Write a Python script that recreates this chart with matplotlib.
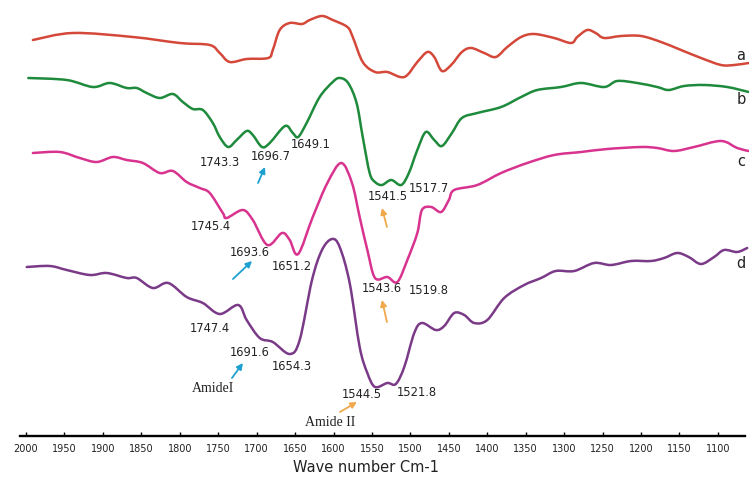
import numpy as np
import matplotlib
matplotlib.use("Agg")
import matplotlib.pyplot as plt
from matplotlib.path import Path
from matplotlib.patches import PathPatch

# ---------------- data (wavenumber, transmittance a.u., stacked) ----------------
wn_a = [1991, 1939, 1861, 1800, 1761, 1748, 1735, 1713, 1685, 1679, 1670, 1657, 1641, 1631, 1615,
        1601, 1582, 1575, 1562, 1546, 1530, 1508, 1491, 1478, 1469, 1459, 1447, 1433, 1421,
        1404, 1389, 1374, 1356, 1339, 1313, 1291, 1283, 1270, 1259, 1248, 1226, 1200, 1174,
        1148, 1122, 1096, 1079, 1060]
t_a = [396, 403, 399, 393, 391, 383, 374, 377, 378, 386, 406, 413, 412, 416, 420,
       416, 409, 399, 374, 364, 364, 359, 374, 384, 379, 365, 371, 384, 388,
       383, 379, 389, 399, 402, 398, 393, 399, 406, 403, 398, 400, 400, 394,
       386, 378, 371, 371, 373]

wn_b = [1997, 1947, 1913, 1891, 1869, 1856, 1843, 1826, 1809, 1796, 1783, 1770, 1757, 1748,
        1737, 1726, 1713, 1705, 1693, 1683, 1663, 1653, 1646, 1635, 1618, 1601, 1592, 1581,
        1570, 1562, 1553, 1546, 1537, 1525, 1512, 1502, 1491, 1480, 1469, 1459, 1446, 1433,
        1413, 1382, 1356, 1335, 1304, 1278, 1248, 1231, 1205, 1179, 1164, 1144, 1118, 1088,
        1060]
t_b = [358, 356, 349, 353, 348, 348, 343, 338, 342, 334, 327, 326, 313, 299,
       289, 296, 305, 301, 289, 293, 310, 303, 299, 313, 339, 354, 358, 353,
       333, 299, 263, 254, 251, 256, 251, 263, 286, 304, 296, 290, 303, 318,
       323, 329, 339, 346, 349, 353, 349, 355, 353, 349, 346, 350, 351, 349,
       344]

wn_c = [1991, 1956, 1930, 1908, 1887, 1869, 1848, 1826, 1809, 1791, 1774, 1761, 1744,
        1739, 1718, 1705, 1686, 1667, 1657, 1646, 1627, 1608, 1590, 1576, 1566, 1556,
        1546, 1530, 1517, 1504, 1491, 1485, 1473, 1460, 1450, 1443, 1413, 1382, 1348,
        1313, 1278, 1244, 1200, 1179, 1157, 1131, 1096, 1075, 1060]
t_c = [283, 284, 278, 274, 279, 276, 273, 263, 265, 254, 248, 243, 223,
       218, 226, 216, 191, 203, 196, 182, 219, 253, 273, 253, 219, 186,
       158, 159, 154, 176, 203, 226, 229, 224, 236, 246, 251, 263, 273,
       281, 284, 287, 289, 288, 285, 289, 295, 288, 285]

wn_d = [1999, 1969, 1947, 1917, 1895, 1869, 1856, 1835, 1815, 1791, 1770, 1748, 1724, 1713,
        1696, 1679, 1657, 1644, 1628, 1615, 1602, 1592, 1579, 1566, 1556, 1546, 1530, 1519,
        1508, 1495, 1485, 1467, 1456, 1443, 1430, 1417, 1400, 1378, 1352, 1330, 1311, 1287,
        1261, 1239, 1213, 1187, 1170, 1153, 1138, 1122, 1105, 1092, 1075, 1062]
t_d = [169, 170, 166, 161, 163, 158, 158, 148, 153, 139, 133, 122, 131, 116,
       98, 94, 82, 96, 156, 186, 197, 189, 153, 89, 63, 49, 53, 52,
       69, 103, 113, 106, 110, 123, 121, 113, 116, 138, 151, 158, 165, 165,
       173, 171, 175, 175, 178, 183, 179, 172, 179, 186, 184, 188]

series_names = ["a", "b", "c", "d"]
tick_values = list(range(2000, 1099, -50))

peak_texts = ["1743.3", "1696.7", "1649.1", "1541.5", "1517.7",
              "1745.4", "1693.6", "1651.2", "1543.6", "1519.8",
              "1747.4", "1691.6", "1654.3", "1544.5", "1521.8"]
band_texts = ["AmideI", "Amide II"]

# ---------------- layout / style ----------------
peak_pos = [(1747.7, 274), (1681.3, 279), (1629.3, 291), (1529.2, 239), (1475.8, 248),
            (1759.4, 209), (1708.6, 183), (1654.0, 170), (1537.0, 147), (1475.8, 145),
            (1760.7, 107), (1708.6, 84), (1654.0, 69), (1563.0, 42), (1491.5, 43)]
band_pos = [(1756.8, 47), (1604.6, 13)]
name_pos = [(1070, 381), (1070, 336), (1070, 274), (1070, 172)]
blue_arrows = [((1698.2, 253), (1689.1, 269)),
               ((1730.8, 157), (1706.0, 175)),
               ((1732.1, 58), (1717.8, 73))]
orange_arrows = [((1530.5, 209), (1537.0, 228)),
                 ((1530.5, 114), (1537.0, 136)),
                 ((1591.6, 24), (1569.5, 34))]
colors = ["#d4483a", "#1e8a3c", "#d8338f", "#7a3a88"]
blue = "#1ea0d0"
orange = "#f0a84a"


def smooth_path(x, y):
    pts = np.column_stack([x, y]).astype(float)
    ext = np.vstack([pts[0], pts, pts[-1]])
    verts = [pts[0]]
    codes = [Path.MOVETO]
    for i in range(len(pts) - 1):
        p0, p1, p2, p3 = ext[i], ext[i + 1], ext[i + 2], ext[i + 3]
        verts += [p1 + (p2 - p0) / 6.0, p2 - (p3 - p1) / 6.0, p2]
        codes += [Path.CURVE4] * 3
    return Path(verts, codes)


fig = plt.figure(figsize=(7.49, 4.78), dpi=100)
ax = fig.add_axes([0, 42 / 478, 1, 436 / 478])
ax.set_xlim(2033.8, 1059.6)
ax.set_ylim(0, 436)

for (xs, ys), c in zip([(wn_a, t_a), (wn_b, t_b), (wn_c, t_c), (wn_d, t_d)], colors):
    ax.add_patch(PathPatch(smooth_path(xs, ys), fill=False, edgecolor=c, lw=1.8,
                           capstyle="round", joinstyle="round"))

for name, (x, y) in zip(series_names, name_pos):
    ax.text(x, y, name, fontsize=10.5, ha="center", va="center", color="#222222")

for txt, (x, y) in zip(peak_texts, peak_pos):
    ax.text(x, y, txt, fontsize=8.3, ha="center", va="center", color="#222222",
            family="DejaVu Sans")

for txt, (x, y) in zip(band_texts, band_pos):
    ax.text(x, y, txt, fontsize=10, ha="center", va="center", color="#222222",
            family="Liberation Serif")

for arrows, col in [(blue_arrows, blue), (orange_arrows, orange)]:
    for tail, head in arrows:
        ax.annotate("", xy=head, xytext=tail,
                    arrowprops=dict(arrowstyle="-|>", color=col, lw=1.3,
                                    mutation_scale=9, shrinkA=0, shrinkB=0))

for s in ["top", "left", "right"]:
    ax.spines[s].set_visible(False)
ax.spines["bottom"].set_bounds(2008, 1065)
ax.spines["bottom"].set_linewidth(1.7)
ax.set_yticks([])
ax.set_xticks(tick_values)
ax.set_xticklabels([str(v) for v in tick_values])
ax.tick_params(axis="x", direction="in", length=3, width=1, pad=5.5, labelsize=7,
               labelcolor="#222222")
ax.set_xlabel("Wave number Cm-1", fontsize=10.5, color="#222222")
ax.xaxis.set_label_coords(366 / 749, -32 / 436)
ax.xaxis.label.set_va("center")
ax.patch.set_visible(False)

fig.savefig("out.png", dpi=100)
